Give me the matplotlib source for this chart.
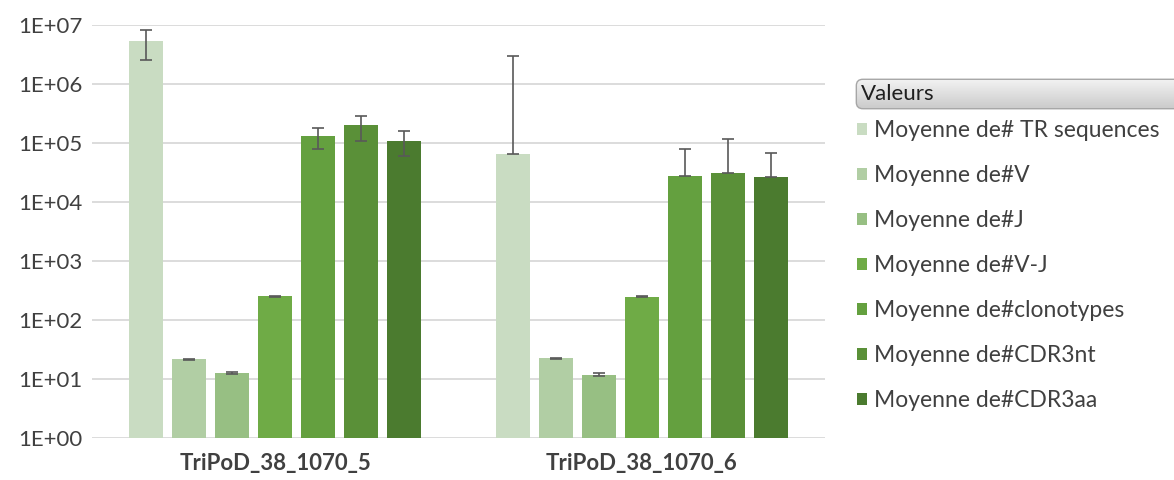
import numpy as np
import matplotlib
matplotlib.use("Agg")
import matplotlib.pyplot as plt
from matplotlib.patches import FancyBboxPatch

plt.rcParams["font.family"] = ["Lato", "DejaVu Sans"]

groups = ["TriPoD_38_1070_5", "TriPoD_38_1070_6"]
series = ["Moyenne de# TR sequences", "Moyenne de#V", "Moyenne de#J",
          "Moyenne de#V-J", "Moyenne de#clonotypes", "Moyenne de#CDR3nt",
          "Moyenne de#CDR3aa"]
colors = ["#c9dcc2", "#b1cea4", "#97bf83", "#6fab46", "#64a03f", "#5a9038", "#4b7b2f"]

# moyennes par groupe (une valeur par série)
mean_5 = [5.4e6, 21.5, 12.6, 251, 1.3e5, 2.0e5, 1.1e5]
mean_6 = [6.6e4, 22.5, 11.9, 250, 2.8e4, 3.1e4, 2.7e4]
# écarts-types
sd_5 = [2.9e6, 0.5, 0.5, 2, 5.0e4, 9.0e4, 5.0e4]
sd_6 = [2.9e6, 0.5, 0.5, 2, 5.1e4, 8.6e4, 4.1e4]

means = np.array([mean_5, mean_6])
sds = np.array([sd_5, sd_6])

fig = plt.figure(figsize=(11.74, 4.8), dpi=100)
ax = fig.add_axes([0.0784, 0.0875, 0.6243, 0.8605])

x = np.arange(len(groups))
step = 0.1175
width = 0.093
txt = "#404040"

for i, name in enumerate(series):
    pos = x + (i - 3) * step
    m = means[:, i]
    s = sds[:, i]
    # en log, la barre basse disparaît si elle passe sous zéro
    lower = np.where(m - s > 0, s, 0)
    ax.bar(pos, m, width, color=colors[i], label=name, zorder=2)
    ax.errorbar(pos, m, yerr=[lower, s], fmt="none", ecolor="#595959",
                elinewidth=1.2, capsize=4.5, capthick=1.2, zorder=3)

ax.set_yscale("log")
ax.set_ylim(1, 1e7)
ax.set_xlim(-0.5, 1.5)
ax.set_yticks([10.0 ** k for k in range(8)])
ax.set_yticklabels([f"1E+{k:02d}" for k in range(8)])
ax.minorticks_off()
ax.set_xticks(x)
ax.set_xticklabels(groups, fontweight="bold")
ax.tick_params(axis="y", length=0, pad=7, labelsize=16, labelcolor=txt)
ax.tick_params(axis="x", length=0, pad=11, labelsize=16, labelcolor=txt)
ax.grid(axis="y", color="#d9d9d9", linewidth=1.3, zorder=0)
ax.set_axisbelow(True)
for sp in ax.spines.values():
    sp.set_visible(False)

# en-tête "Valeurs" façon tableau croisé
hx, hy, hw, hh = 855 / 1174, 1 - 110 / 480, 330 / 1174, 32 / 480
hax = fig.add_axes([hx, hy, hw, hh])
hax.set_xlim(0, 1)
hax.set_ylim(0, 1)
hax.axis("off")
grad = np.linspace(0, 1, 64)[:, None]
box = FancyBboxPatch((0.004, 0.04), 0.99, 0.92, boxstyle="round,pad=0,rounding_size=0.02",
                     transform=hax.transAxes, facecolor="none", edgecolor="#a6a6a6",
                     linewidth=1.0, mutation_aspect=10)
hax.add_patch(box)
im = hax.imshow(grad, extent=[0, 1, 0, 1], aspect="auto",
                cmap=matplotlib.colors.LinearSegmentedColormap.from_list("g", ["#f4f4f4", "#c9c9c9"]),
                origin="upper")
im.set_clip_path(box)
hax.text(0.017, 0.5, "Valeurs", va="center", ha="left", fontsize=16,
         color="#1f1f1f")

leg = ax.legend(loc="upper left", bbox_to_anchor=(857 / 1174, 1 - 120 / 480),
                bbox_transform=fig.transFigure, frameon=False, fontsize=16.5,
                handlelength=0.45, handleheight=0.45, handletextpad=0.3,
                labelspacing=1.05, borderaxespad=0, borderpad=0)
for t in leg.get_texts():
    t.set_color(txt)

fig.savefig("out.png", dpi=100, facecolor="white")
